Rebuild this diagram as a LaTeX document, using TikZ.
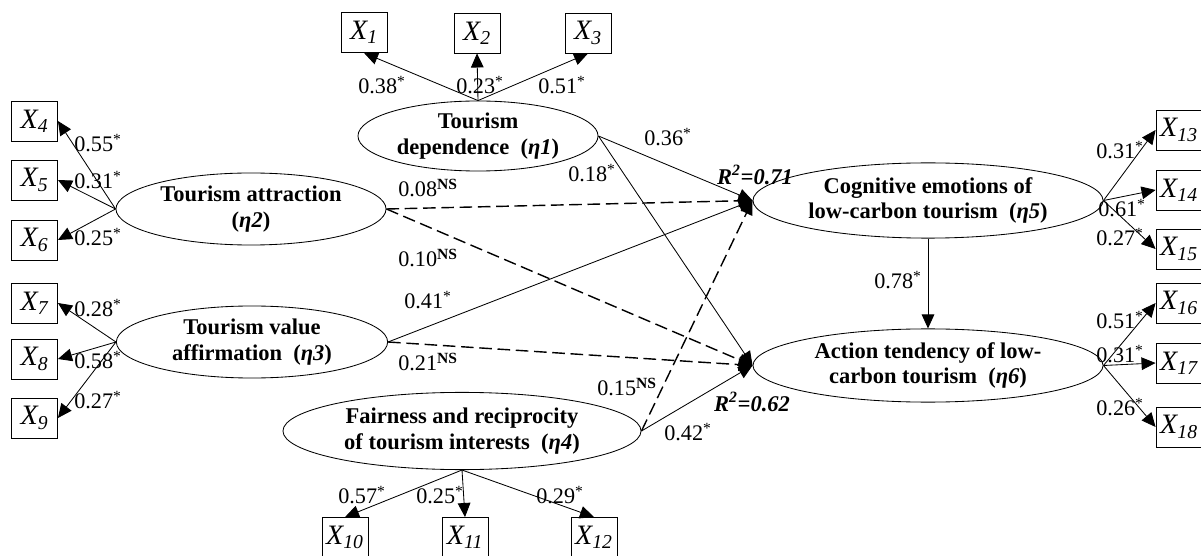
\documentclass[tikz,border=0pt]{standalone}
\usepackage{fontspec}
\setmainfont{Liberation Serif}
\usetikzlibrary{shapes.geometric,arrows.meta}
\newcommand{\pstar}[1]{#1\textsuperscript{*}}
\newcommand{\pns}[1]{#1\textsuperscript{\bfseries NS}}
\tikzset{
	latent/.style={draw, ellipse, inner sep=0pt, line width=0.6pt},
	latenttext/.style={align=center, inner sep=0pt, font=\fontsize{16}{18}\selectfont\bfseries},
	obsbox/.style={draw, rectangle, minimum width=1.15cm, minimum height=1cm, inner sep=0pt, line width=0.6pt, font=\fontsize{20}{22}\selectfont\itshape},
	coef/.style={inner sep=0pt, font=\fontsize{15.8}{18}\selectfont},
	rsq/.style={inner sep=0pt, font=\fontsize{16}{18}\selectfont\bfseries\itshape},
	effect/.style={-{Triangle[length=10pt,width=9pt]}, line width=0.6pt},
	nseffect/.style={effect, line width=1pt, dash pattern=on 9pt off 4pt}
}
\begin{document}
\begin{tikzpicture}[x=0.025cm,y=-0.025cm]
		\useasboundingbox (0,0) rectangle (1201,556);
		\foreach \n/\x/\y/\w/\h in {1/478/136/6/1.75, 2/251/209/6.75/1.8, 3/252/342/6.78/1.8, 4/462/431/8.95/1.93, 5/928/200.5/8.75/1.88, 6/928/365.5/8.75/1.83}
		{
			\node[latent, minimum width=\w cm, minimum height=\h cm] (e\n) at (\x,\y) {};
		}
		\node[latenttext] (t1) at (e1) {Tourism\\dependence \ (\textit{η1})};
		\node[latenttext] (t2) at (e2) {Tourism attraction\\(\textit{η2})};
		\node[latenttext] (t3) at (e3) {Tourism value\\affirmation \ (\textit{η3})};
		\node[latenttext] (t4) at (e4) {Fairness and reciprocity\\of tourism interests \ (\textit{η4})};
		\node[latenttext] (t5) at (e5) {Cognitive emotions of\\low-carbon tourism \ (\textit{η5})};
		\node[latenttext] (t6) at (e6) {Action tendency of low-\\carbon tourism \ (\textit{η6})};
		\foreach \i/\x/\y in {1/364/32.5, 2/477/33, 3/588/33, 4/34.5/121, 5/34.5/180, 6/34.5/240, 7/34.5/303, 8/34.5/359, 9/34.5/418, 10/345/537.5, 11/465/537.5, 12/594/537.5, 13/1179/130, 14/1179/190, 15/1179/249, 16/1179/303, 17/1179/363, 18/1179/427}
		{
			\node[obsbox] (x\i) at (\x,\y) {X\textsubscript{\i}};
		}
		\foreach \i in {1,2,3} \draw[effect] (e1.north) -- (x\i.south);
		\foreach \i in {4,5,6} \draw[effect] (e2.west) -- (x\i.east);
		\foreach \i in {7,8,9} \draw[effect] (e3.west) -- (x\i.east);
		\foreach \i in {10,11,12} \draw[effect] (e4.south) -- (x\i.north);
		\foreach \i in {13,14,15} \draw[effect] (e5.east) -- (x\i.west);
		\foreach \i in {16,17,18} \draw[effect] (e6.east) -- (x\i.west);
		\draw[effect] (e1.east) -- (e5.west);
		\draw[effect] (e1.east) -- (e6.west);
		\draw[nseffect] (e2.east) -- (e5.west);
		\draw[nseffect] (e2.east) -- (e6.west);
		\draw[effect] (e3.east) -- (e5.west);
		\draw[nseffect] (e3.east) -- (e6.west);
		\draw[nseffect] (e4.east) -- (e5.west);
		\draw[effect] (e4.east) -- (e6.west);
		\draw[effect] (e5.south) -- (e6.north);
		\foreach \n/\x/\y/\t in {1/382/85/\pstar{0.38}, 2/480/85/\pstar{0.23}, 3/562/85/\pstar{0.51}, 4/98/143/\pstar{0.55}, 5/98/180/\pstar{0.31}, 6/98/237/\pstar{0.25}, 7/98/308/\pstar{0.28}, 8/98/360/\pstar{0.58}, 9/98/400/\pstar{0.27}, 10/362/495/\pstar{0.57}, 11/440/495/\pstar{0.25}, 12/560/495/\pstar{0.29}, 13/1120/150/\pstar{0.31}, 14/1122/208/\pstar{0.61}, 15/1120/237/\pstar{0.27}, 16/1120/320/\pstar{0.51}, 17/1120/354/\pstar{0.31}, 18/1120/407/\pstar{0.26}, 19/668/137/\pstar{0.36}, 20/592/173/\pstar{0.18}, 21/428/188/\pns{0.08}, 22/428/258/\pns{0.10}, 23/428/300/\pstar{0.41}, 24/428/362/\pns{0.21}, 25/627/387/\pns{0.15}, 26/688/432/\pstar{0.42}, 27/898/280/\pstar{0.78}}
		{
			\node[coef] (c\n) at (\x,\y) {\t};
		}
		\node[rsq] (r5) at (755,175) {R\textsuperscript{2}=0.71};
		\node[rsq] (r6) at (752,402) {R\textsuperscript{2}=0.62};
\end{tikzpicture}
\end{document}
